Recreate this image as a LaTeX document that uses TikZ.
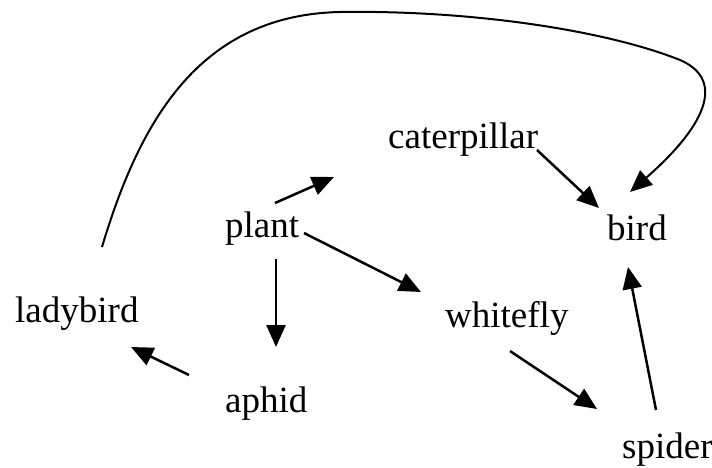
\documentclass[tikz,border=0pt]{standalone}
\usepackage{fontspec}
\setmainfont{Liberation Serif}
\usetikzlibrary{arrows.meta}
\begin{document}
\begin{tikzpicture}[x=1pt,y=-1pt,
  lbl/.style={anchor=base west,inner sep=0pt,font=\fontsize{37}{40}\selectfont},
  arr/.style={line width=2.5pt,-{Triangle[length=22pt,width=19pt]}},
  loop/.style={line width=2pt,-{Triangle[length=22pt,width=19pt]}}]
\useasboundingbox (0,0) rectangle (712,467);
\node[lbl] (cat) at (388,148) {caterpillar};
\node[lbl] (bird) at (607,240) {bird};
\node[lbl] (plant) at (225,237) {plant};
\node[lbl] (lady) at (15,322) {ladybird};
\node[lbl] (aphid) at (225,412) {aphid};
\node[lbl] (white) at (445,327) {whitefly};
\node[lbl] (spider) at (622,458) {spider};
\draw[arr] ([shift={(50,-34)}]plant.base west) -- ([shift={(-54,29)}]cat.base west);
\draw[arr] ([shift={(79,-4)}]plant.base west) -- ([shift={(-24,-35)}]white.base west);
\draw[arr] ([shift={(51,22)}]plant.base west) -- ([shift={(51,-65)}]aphid.base west);
\draw[arr] ([shift={(-36,-37)}]aphid.base west) -- ([shift={(116,25)}]lady.base west);
\draw[arr] ([shift={(149,2)}]cat.base west) -- ([shift={(-8,-32)}]bird.base west);
\draw[arr] ([shift={(65,24)}]white.base west) -- ([shift={(-25,-49)}]spider.base west);
\draw[arr] ([shift={(34,-48)}]spider.base west) -- ([shift={(21,27)}]bird.base west);
\coordinate (cs) at ([shift={(87,-75)}]lady.base west);
\coordinate (ce) at ([shift={(23,-48)}]bird.base west);
\draw[loop] (cs) .. controls (140,120) and (200,15) .. (340,12)
  .. controls (470,10) and (605,30) .. (680,60)
  .. controls (722,78) and (712,120) .. (ce);
\end{tikzpicture}
\end{document}
